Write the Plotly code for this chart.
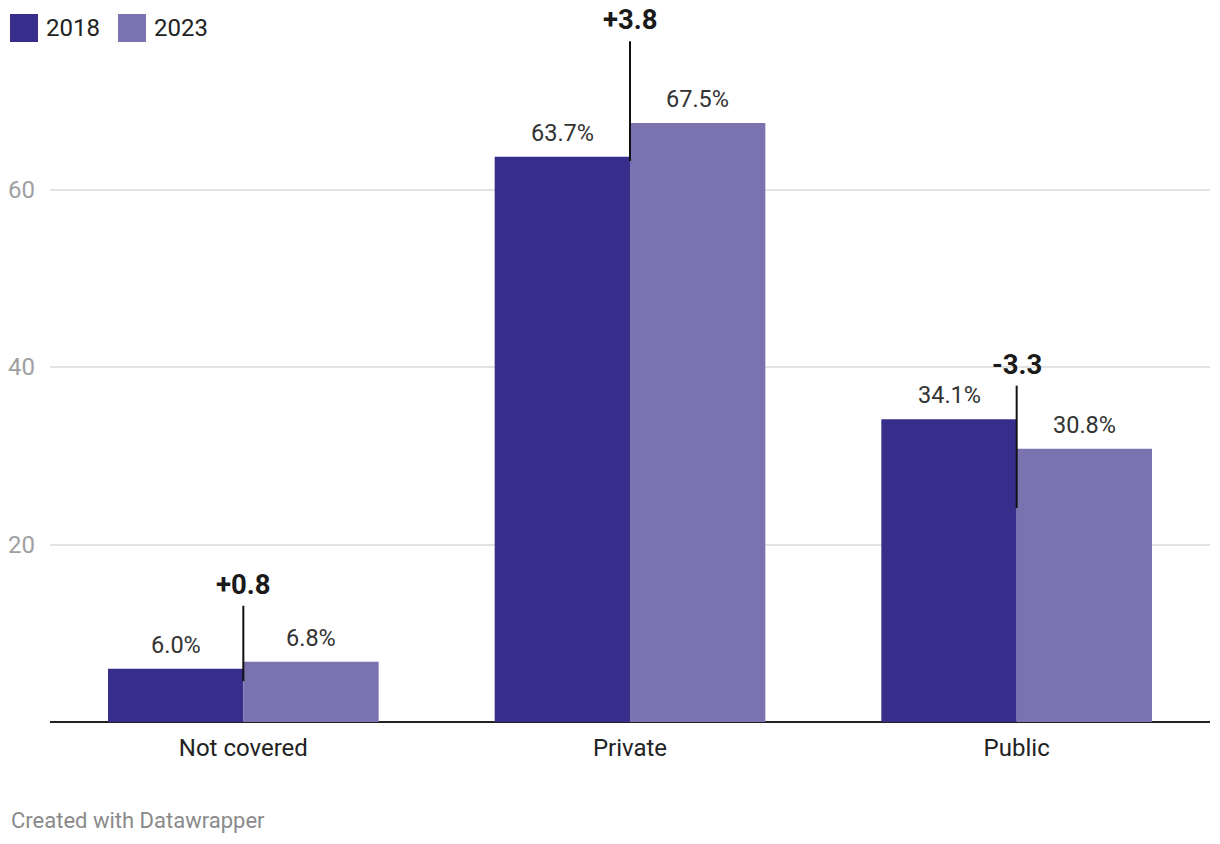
import plotly.graph_objects as go

categories = ["Not covered", "Private", "Public"]
years = ["2018", "2023"]
values_2018 = [6.0, 63.7, 34.1]
values_2023 = [6.8, 67.5, 30.8]
y_ticks = [20, 40, 60]
# difference marker line extents (data units)
diff_line_low = [4.6, 63.2, 24.1]
diff_line_high = [13.1, 76.7, 37.9]

colors = ["#372d8a", "#7a73af"]
FONT = "Roboto"
BARGAP = 0.30

fig = go.Figure()
for name, vals, col in zip(years, [values_2018, values_2023], colors):
    fig.add_trace(go.Bar(x=categories, y=vals, name=name, marker_color=col,
                         marker_line_width=0, showlegend=False, hoverinfo="skip"))

annotations = []
shapes = []
half = (1 - BARGAP) / 4
for i, cat in enumerate(categories):
    for off, v in ((-half, values_2018[i]), (half, values_2023[i])):
        annotations.append(dict(x=i + off, y=v, xref="x", yref="y", text=f"{v:.1f}%",
                                showarrow=False, yanchor="bottom", yshift=8,
                                font=dict(family=FONT, size=23.5, color="#333333")))
    d = values_2023[i] - values_2018[i]
    annotations.append(dict(x=i, y=diff_line_high[i], xref="x", yref="y",
                            text=f"<b>{d:+.1f}</b>", showarrow=False, yanchor="bottom",
                            yshift=3, font=dict(family=FONT, size=27.5, color="#1a1a1a")))
    shapes.append(dict(type="line", xref="x", yref="y", x0=i, x1=i,
                       y0=diff_line_low[i], y1=diff_line_high[i],
                       line=dict(color="#111111", width=2)))

# legend (manual, large swatches)
for k, (name, col) in enumerate(zip(years, colors)):
    x0 = -40 + k * 108
    shapes.append(dict(type="rect", xref="paper", yref="paper", xsizemode="pixel",
                       ysizemode="pixel", xanchor=0, yanchor=1, x0=x0, x1=x0 + 28,
                       y0=-14, y1=-42, fillcolor=col, line=dict(width=0)))
    annotations.append(dict(xref="paper", yref="paper", x=0, y=1, xshift=x0 + 34,
                            yshift=-28, xanchor="left", yanchor="middle", text=name,
                            showarrow=False, font=dict(family=FONT, size=24, color="#222222")))

annotations.append(dict(xref="paper", yref="paper", x=0, y=0, xshift=-41, yshift=-98,
                        xanchor="left", yanchor="middle", text="Created with Datawrapper",
                        showarrow=False, font=dict(family=FONT, size=22, color="#8a8a8a")))

fig.update_layout(
    width=1220, height=844,
    margin=dict(l=50, r=10, t=0, b=122),
    plot_bgcolor="white", paper_bgcolor="white",
    barmode="group", bargap=BARGAP, bargroupgap=0,
    font=dict(family=FONT),
    annotations=annotations, shapes=shapes,
    xaxis=dict(showgrid=False, showline=False, ticks="", range=[-0.5, 2.5],
               tickfont=dict(family=FONT, size=24, color="#222222"),
               ticklabelstandoff=9, fixedrange=True),
    yaxis=dict(range=[0, 722 / 8.875], tickvals=y_ticks, showgrid=True,
               gridcolor="#e3e3e3", gridwidth=1.5, zeroline=True,
               zerolinecolor="#222222", zerolinewidth=2, showline=False, ticks="",
               tickfont=dict(family=FONT, size=24, color="#a0a0a0"),
               ticklabelstandoff=14, fixedrange=True),
)

fig.write_html("out.html", config={"displayModeBar": False},
               post_script="document.body.style.margin='0';document.body.style.overflow='hidden';")
